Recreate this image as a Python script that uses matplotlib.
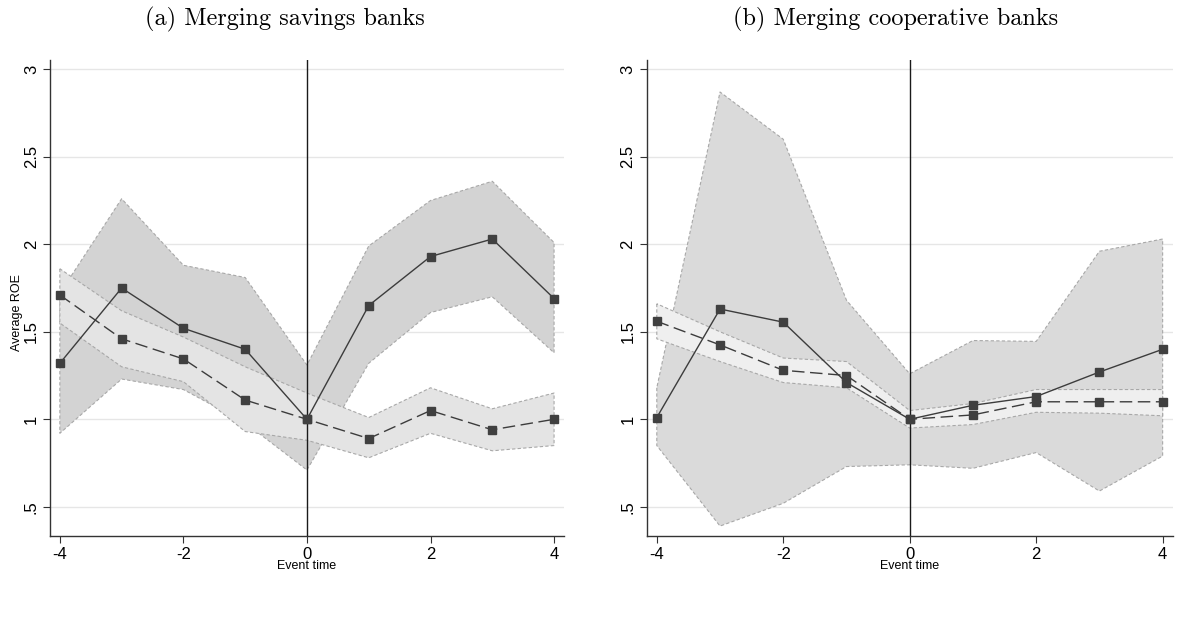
import matplotlib
matplotlib.use("Agg")
import matplotlib.pyplot as plt
import numpy as np

# %% datos
event_time = [-4, -3, -2, -1, 0, 1, 2, 3, 4]

# (a) savings banks
sav_merg = [1.32, 1.75, 1.52, 1.40, 1.00, 1.65, 1.93, 2.03, 1.69]
sav_merg_lo = [0.92, 1.23, 1.17, 0.98, 0.71, 1.32, 1.61, 1.70, 1.38]
sav_merg_hi = [1.72, 2.26, 1.88, 1.81, 1.31, 1.99, 2.25, 2.36, 2.01]
sav_ctrl = [1.71, 1.46, 1.345, 1.11, 1.00, 0.89, 1.05, 0.94, 1.00]
sav_ctrl_lo = [1.55, 1.30, 1.215, 0.93, 0.88, 0.78, 0.92, 0.82, 0.85]
sav_ctrl_hi = [1.86, 1.62, 1.47, 1.30, 1.15, 1.01, 1.18, 1.06, 1.15]

# (b) cooperative banks
coop_merg = [1.01, 1.63, 1.555, 1.21, 1.00, 1.08, 1.13, 1.27, 1.40]
coop_merg_lo = [0.85, 0.39, 0.52, 0.73, 0.74, 0.72, 0.81, 0.59, 0.79]
coop_merg_hi = [1.18, 2.87, 2.60, 1.68, 1.26, 1.45, 1.445, 1.96, 2.03]
coop_ctrl = [1.56, 1.425, 1.28, 1.25, 1.00, 1.025, 1.10, 1.10, 1.10]
coop_ctrl_lo = [1.46, 1.33, 1.21, 1.18, 0.95, 0.97, 1.04, 1.035, 1.02]
coop_ctrl_hi = [1.66, 1.50, 1.35, 1.33, 1.05, 1.09, 1.17, 1.17, 1.17]

yticks = [0.5, 1, 1.5, 2, 2.5, 3]
ytick_labels = ['.5', '1', '1.5', '2', '2.5', '3']
xticks = [-4, -2, 0, 2, 4]

titulos = ['(a) Merging savings banks', '(b) Merging cooperative banks']
titulo_x = [285 / 1187, 896 / 1187]

plt.rcParams['font.family'] = ['Liberation Sans', 'DejaVu Sans']

fig = plt.figure(figsize=(11.87, 6.17), dpi=100)
ax1 = fig.add_axes([0.0421, 0.1318, 0.4330, 0.7710])
ax2 = fig.add_axes([0.5448, 0.1318, 0.4432, 0.7710])

paneles = [
    (ax1, sav_merg, sav_merg_lo, sav_merg_hi, sav_ctrl, sav_ctrl_lo, sav_ctrl_hi, '#d3d3d3', '#e4e4e4'),
    (ax2, coop_merg, coop_merg_lo, coop_merg_hi, coop_ctrl, coop_ctrl_lo, coop_ctrl_hi, '#dadada', '#efefef'),
]

for i, (ax, m, mlo, mhi, c, clo, chi, col_osc, col_cla) in enumerate(paneles):
    for y in yticks:
        ax.axhline(y, color='#e6e6e6', lw=1.0, zorder=0)
    ax.fill_between(event_time, mlo, mhi, facecolor=col_osc, edgecolor='#a8a8a8',
                    linestyle=(0, (3, 2)), lw=0.8, zorder=1)
    ax.fill_between(event_time, clo, chi, facecolor=col_cla, edgecolor='#a8a8a8',
                    linestyle=(0, (3, 2)), lw=0.8, zorder=2)
    ax.axvline(0, color='#1a1a1a', lw=1.0, zorder=3)
    ax.plot(event_time, c, color='#3c3c3c', lw=1.0, ls=(0, (9, 4)), marker='s',
            ms=6, mfc='#404040', mec='#404040', zorder=4)
    ax.plot(event_time, m, color='#3c3c3c', lw=1.0, ls='-', marker='s',
            ms=6, mfc='#404040', mec='#404040', zorder=5)

    ax.set_xlim(-4.16, 4.16)
    ax.set_ylim(0.335, 3.053)
    ax.set_xticks(xticks)
    ax.set_xticklabels([str(x) for x in xticks], fontsize=12)
    ax.set_yticks(yticks)
    ax.set_yticklabels(ytick_labels, fontsize=12, rotation=90, va='center')
    ax.tick_params(axis='both', direction='out', length=5, width=0.8, color='#333333', pad=3)
    for s in ['top', 'right']:
        ax.spines[s].set_visible(False)
    for s in ['left', 'bottom']:
        ax.spines[s].set_color('#333333')
        ax.spines[s].set_linewidth(1.0)
    ax.set_xlabel('Event time', fontsize=9, labelpad=-1)
    fig.text(titulo_x[i], 1 - 19 / 617, titulos[i],
             ha='center', va='center', fontsize=17.5, family='cmr10')

ax1.set_ylabel('Average ROE', fontsize=9)
ax1.yaxis.set_label_coords(-0.052, 0.47)

fig.savefig('out.png', dpi=100)
